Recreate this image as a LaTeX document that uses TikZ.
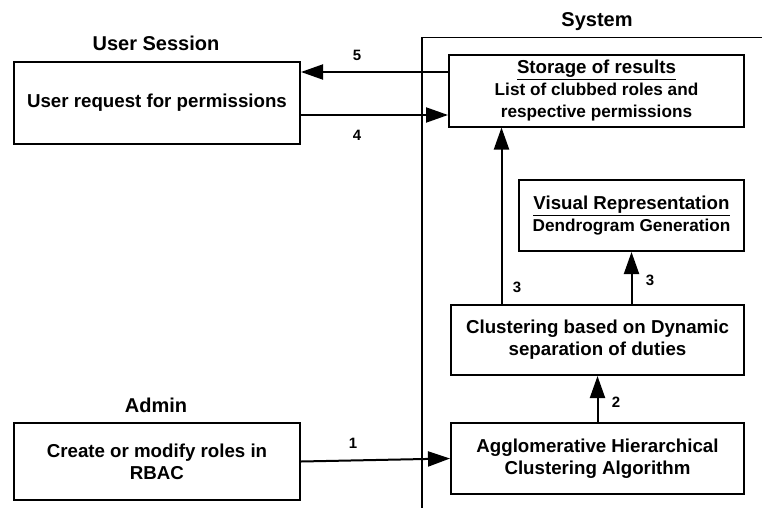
\documentclass[tikz,border=0pt]{standalone}
\usepackage{fontspec}
\setmainfont{Liberation Sans}
\usepackage{tikz}
\usetikzlibrary{arrows.meta,positioning}
\newcommand{\boxfont}{\fontsize{18.7}{22}\selectfont\bfseries}
\newcommand{\subfont}{\fontsize{17.2}{20.5}\selectfont\bfseries}
\newcommand{\headfont}{\fontsize{20}{24}\selectfont\bfseries}
\newcommand{\numfont}{\fontsize{15}{18}\selectfont\bfseries}

\begin{document}
\begin{tikzpicture}[
    x=1pt,y=-1pt,
    >={Triangle[length=22pt,width=15pt]},
    box/.style={rectangle,draw=black,line width=2pt,
                inner sep=2pt,align=center,font=\boxfont},
    arr/.style={->,line width=2pt},
    head/.style={font=\headfont},
    lab/.style={font=\numfont}
  ]
  \useasboundingbox (0,0) rectangle (762,508);

  % system boundary
  \draw[line width=1.6pt] (422,508) -- (422,37.5) -- (762,37.5);

  \node[head] (sysT) at (597,22)  {System};
  \node[head] (usrT) at (156,43)  {User Session};
  \node[head] (admT) at (156,405) {Admin};

  \node[box,minimum width=286pt,minimum height=82pt] (usr) at (157,103)
    {User request for permissions};
  \node[box,minimum width=295pt,minimum height=71pt] (store) at (596.5,91)
    {\underline{Storage of results}\\{\subfont List of clubbed roles and}\\{\subfont respective permissions}};
  \node[box,minimum width=225pt,minimum height=71pt] (vis) at (631.5,215.5)
    {\underline{Visual Representation}\\{\subfont Dendrogram Generation}};
  \node[box,minimum width=293pt,minimum height=70pt] (clus) at (597.5,340)
    {Clustering based on Dynamic\\separation of duties};
  \node[box,minimum width=293pt,minimum height=71pt] (ahc) at (597.5,458.5)
    {Agglomerative Hierarchical\\Clustering Algorithm};
  \node[box,minimum width=286pt,minimum height=77pt] (adm) at (157,461.5)
    {Create or modify roles in\\RBAC};

  \draw[arr] (adm.east) -- (ahc.west);
  \draw[arr] (ahc.north) -- (clus.south);
  \draw[arr] (clus.north -| vis.south) -- (vis.south);
  \draw[arr] ([xshift=-96pt]clus.north) -- ([xshift=-96pt]clus.north |- store.south);
  \draw[arr] ([yshift=-12pt]usr.east) -- ([yshift=-12pt]usr.east -| store.west);
  \draw[arr] ([yshift=19pt]store.west) -- ([yshift=19pt]store.west -| usr.east);

  \node[lab] (n1) at (353,443) {1};
  \node[lab] (n2) at (616,402) {2};
  \node[lab] (n3a) at (517,287) {3};
  \node[lab] (n3b) at (650,280) {3};
  \node[lab] (n4) at (357,135) {4};
  \node[lab] (n5) at (357,55)  {5};
\end{tikzpicture}
\end{document}
